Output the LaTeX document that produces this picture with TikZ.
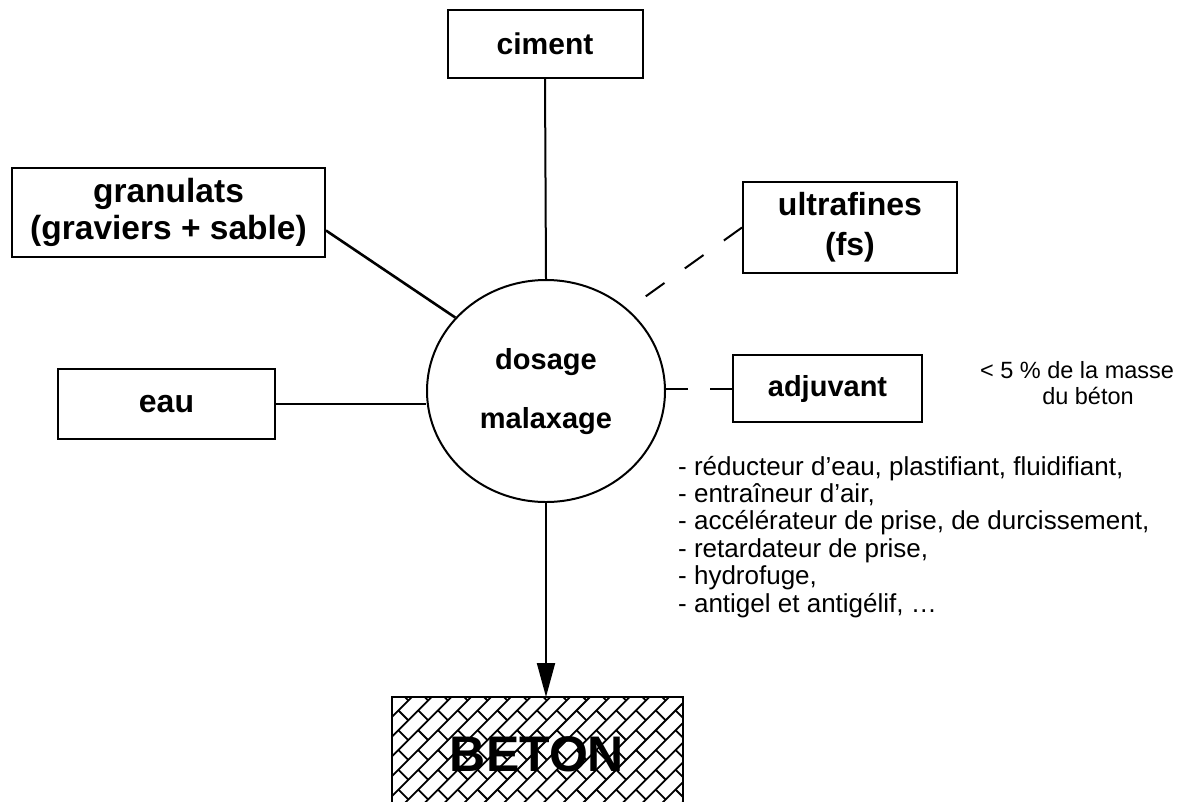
\documentclass[tikz,border=0pt]{standalone}
\usepackage{fontspec}
\setmainfont{Liberation Sans}
\usetikzlibrary{arrows.meta,shapes.geometric,calc}
\newcommand\labfont[1]{\fontsize{#1}{#1*1.2}\selectfont\bfseries}
\newcommand\listfont{\fontsize{26}{27.4}\selectfont}
\newcommand\notefont{\fontsize{23.5}{25}\selectfont}
\begin{document}
\begin{tikzpicture}[x=1pt,y=-1pt,
  box/.style={draw, line width=2pt, inner sep=0pt, align=center},
  conn/.style={line width=2pt},
  hatchline/.style={line width=1.8pt}]
\useasboundingbox (0,0) rectangle (1191,801);
% boxes
\node[box, minimum width=195pt, minimum height=68pt, font=\fontsize{30}{36}\selectfont\bfseries] (ciment) at (545,44) {ciment};
\node[box, minimum width=313pt, minimum height=89pt, font=\fontsize{33.5}{37}\selectfont\bfseries] (gran) at (168.5,212.5) {granulats\\(graviers + sable)};
\node[box, minimum width=214pt, minimum height=91pt, font=\fontsize{32}{40}\selectfont\bfseries] (ultra) at (850,227.5) {ultrafines\\(fs)};
\node[box, minimum width=217pt, minimum height=70pt, font=\fontsize{32}{38}\selectfont\bfseries] (eau) at (166.5,404) {eau};
\node[box, minimum width=189pt, minimum height=67pt, font=\fontsize{29}{36}\selectfont\bfseries] (adj) at (827.5,388.5) {adjuvant};
\node[ellipse, draw, line width=2pt, minimum width=238pt, minimum height=222pt, inner sep=0pt] (ell) at (546,391) {};
\node[font=\fontsize{29}{36}\selectfont\bfseries] (dos) at (546,362) {dosage};
\node[font=\fontsize{29}{36}\selectfont\bfseries] (mal) at (546,421) {malaxage};
% connectors
\draw[conn] (ciment.south) -- (ell.north);
\draw[line width=2.6pt] ([yshift=-18pt]gran.east) -- (ell.141);
\draw[conn] (eau.east) -- (eau.east -| ell.west);
\draw[conn, dash pattern=on 23pt off 25pt, shorten <=22pt] (ell.45) -- (ultra.west);
\draw[conn, dash pattern=on 22pt off 22pt] (adj.west) -- (adj.west -| ell.east);
% beton
\coordinate (btop) at (545,697);
\begin{scope}
  \clip (392,697) rectangle (683,801);
  \begin{scope}[shift={(537,750)}, rotate=45]
    \foreach \i in {-12,...,12} {
      \pgfmathsetmacro\off{isodd(\i)*14}
      \draw[hatchline] (-180,\i*14) -- (180,\i*14);
      \foreach \j in {-7,...,7} {
        \draw[hatchline] (\j*28+\off,\i*14) -- ++(0,14);
      }
    }
  \end{scope}
\end{scope}
\draw[line width=2.4pt] (392,815) -- (392,697) -- (683,697) -- (683,815);
\node[font=\fontsize{50}{60}\selectfont\bfseries] (beton) at (537,754) {BETON};
\draw[conn, -{Triangle[length=34pt,width=18pt]}] (ell.south) -- (ell.south |- btop);
% list
\foreach \t [count=\k] in {{- réducteur d'eau, plastifiant, fluidifiant,},{- entraîneur d'air,},{- accélérateur de prise, de durcissement,},{- retardateur de prise,},{- hydrofuge,},{- antigel et antigélif, \ldots}} {
  \node[anchor=base west, font=\listfont, inner sep=0pt] (l\k) at (678,{475+27.4*(\k-1)}) {\t};
}
\node[anchor=base, font=\notefont, inner sep=0pt] (n1) at (1077,378) {< 5 \% de la masse};
\node[anchor=base, font=\notefont, inner sep=0pt] (n2) at (1088,404) {du béton};
\end{tikzpicture}
\end{document}
